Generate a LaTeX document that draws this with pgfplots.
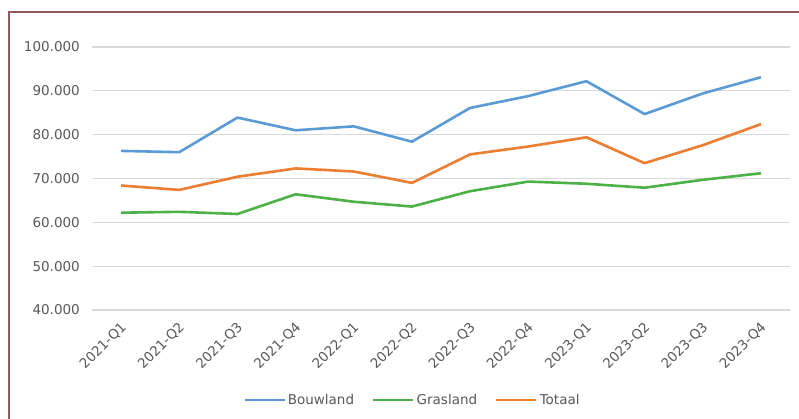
\documentclass[border=0pt]{standalone}
\usepackage{pgfplots}
\pgfplotsset{compat=1.18}
\usepackage{fontspec}
\setmainfont{DejaVu Sans}
\definecolor{cBou}{RGB}{91,155,213}
\definecolor{cGra}{RGB}{76,178,72}
\definecolor{cTot}{RGB}{237,125,49}
\definecolor{cGrid}{RGB}{217,217,217}
\definecolor{cTxt}{RGB}{89,89,89}
\definecolor{cFrame}{RGB}{140,90,95}
\begin{document}
\begin{tikzpicture}[x=1pt,y=1pt]
\path[use as bounding box, fill=white] (0,0) rectangle (799,418);
\draw[cFrame, line width=1.5pt] (9,-10) -- (9,406) -- (810,406);
\begin{axis}[
  at={(92pt,108pt)}, anchor=south west,
  scale only axis, width=698pt, height=263pt,
  xmin=-0.5, xmax=11.5, ymin=40000, ymax=100000,
  ytick={40000,50000,60000,70000,80000,90000,100000},
  yticklabels={40.000,50.000,60.000,70.000,80.000,90.000,100.000},
  xtick={0,...,11},
  xticklabels={2021-Q1,2021-Q2,2021-Q3,2021-Q4,2022-Q1,2022-Q2,2022-Q3,2022-Q4,2023-Q1,2023-Q2,2023-Q3,2023-Q4},
  ymajorgrids, grid style={cGrid, line width=1.3pt},
  axis line style={draw=none}, major tick length=0pt,
  tick label style={font=\fontsize{13.5}{16}\selectfont, text=cTxt},
  scaled y ticks=false,
  yticklabel style={inner sep=0pt, xshift=-12pt},
  xticklabel style={xshift=3pt, yshift=-15pt, rotate=45, anchor=east, inner sep=0pt},
  legend style={at={(0.459,-0.342)}, anchor=center, draw=none, fill=none,
    font=\fontsize{13.5}{16}\selectfont, text=cTxt,
    /tikz/every even column/.append style={column sep=16pt},
    nodes={inner sep=2pt}},
  legend columns=3,
  legend image code/.code={\draw[#1] (0pt,0pt) -- (40pt,0pt);},
  every axis plot/.append style={line width=2.6pt, line join=round},
]
\addplot[cBou] coordinates {(0,76300)(1,76000)(2,83900)(3,81000)(4,81900)(5,78400)(6,86100)(7,88800)(8,92200)(9,84700)(10,89400)(11,93100)};
\addlegendentry{Bouwland}
\addplot[cGra] coordinates {(0,62200)(1,62400)(2,61900)(3,66400)(4,64700)(5,63600)(6,67100)(7,69300)(8,68800)(9,67900)(10,69700)(11,71200)};
\addlegendentry{Grasland}
\addplot[cTot] coordinates {(0,68400)(1,67400)(2,70400)(3,72300)(4,71600)(5,69000)(6,75500)(7,77300)(8,79400)(9,73500)(10,77600)(11,82400)};
\addlegendentry{Totaal}
\end{axis}
\end{tikzpicture}
\end{document}
